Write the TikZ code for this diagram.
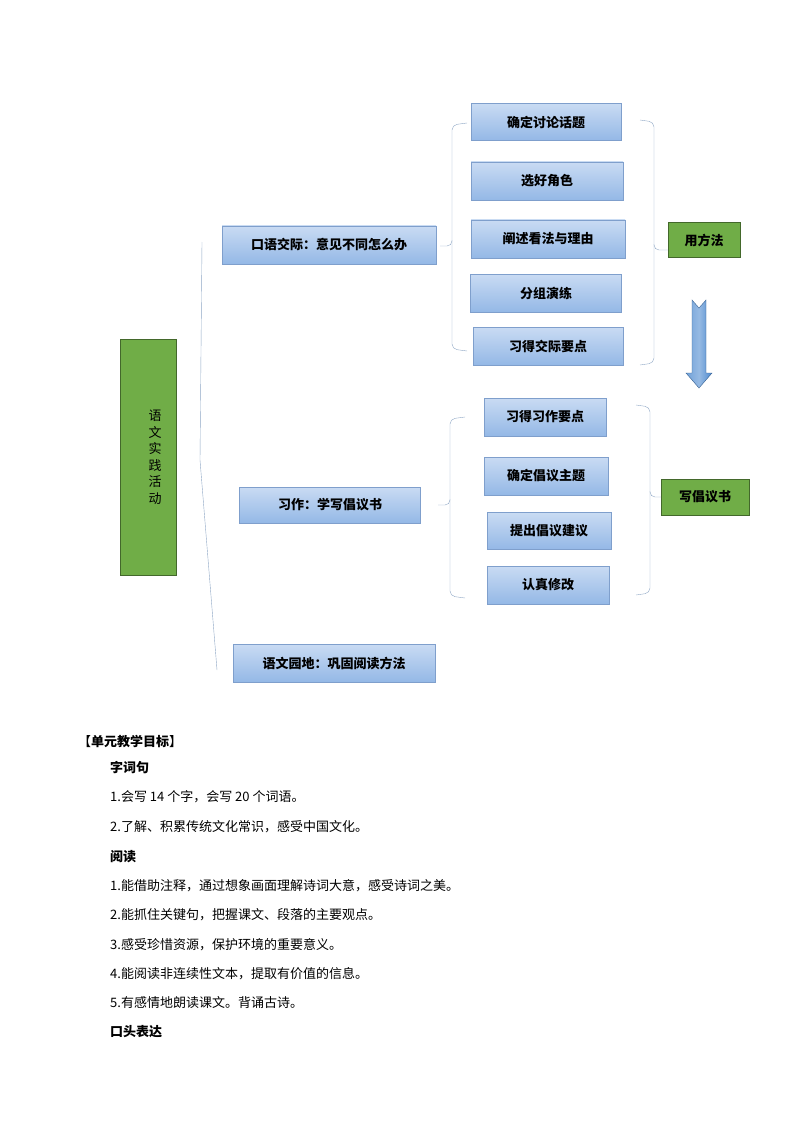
\documentclass[tikz,border=0pt]{standalone}
\usepackage{fontspec}
\setmainfont{Noto Sans CJK SC}
\usetikzlibrary{positioning, calc}
\definecolor{boxblue}{HTML}{94B8E6}
\definecolor{boxtop}{HTML}{C9DBF3}
\definecolor{boxline}{HTML}{7F9FCC}
\definecolor{leafgreen}{HTML}{70AD47}
\definecolor{bracegray}{HTML}{8EA6C4}
\definecolor{arrowblue}{HTML}{4F8BD0}

\begin{document}
\begin{tikzpicture}[x=1pt, y=-1pt, font=\fontsize{13}{15}\selectfont,
	bluebox/.style={draw=boxline, top color=boxtop, bottom color=boxblue, inner sep=0pt, font=\fontsize{13}{15}\selectfont\bfseries},
	greenbox/.style={draw=leafgreen!60!black, fill=leafgreen, inner sep=0pt, font=\fontsize{13}{15}\selectfont\bfseries},
	brace/.style={draw=bracegray, thin, rounded corners=5pt},
	goal/.style={anchor=west, inner sep=0pt, font=\fontsize{13}{15}\selectfont},
	goalhead/.style={goal, font=\fontsize{13}{15}\selectfont\bfseries}]
	\useasboundingbox (0,0) rectangle (794,1123);

	% root and first level
	\node[greenbox, minimum width=56, minimum height=236] (root) at (148,457) {};
	\node[font=\fontsize{13}{16.5}\selectfont, align=center] (rootText) at (155,457) {语\\文\\实\\践\\活\\动};
	\node[bluebox, minimum width=214, minimum height=38] (oral) at (329,245) {口语交际：意见不同怎么办};
	\node[bluebox, minimum width=181, minimum height=36] (write) at (330,505) {习作：学写倡议书};
	\node[bluebox, minimum width=202, minimum height=38] (garden) at (334,663) {语文园地：巩固阅读方法};
	\draw[bracegray, thin] (202,242) -- (200,460) -- (217,670);

	% oral steps
	\node[bluebox, minimum width=150, minimum height=37] (o1) at (546,122) {确定讨论话题};
	\node[bluebox, minimum width=152, minimum height=38] (o2) at (547,181) {选好角色};
	\node[bluebox, minimum width=154, minimum height=38] (o3) at (548,239) {阐述看法与理由};
	\node[bluebox, minimum width=151, minimum height=38] (o4) at (546,293) {分组演练};
	\node[bluebox, minimum width=150, minimum height=38] (o5) at (548,346) {习得交际要点};
	\node[greenbox, minimum width=72, minimum height=35] (useWay) at (704,240) {用方法};
	\draw[brace] (467,123) -- (452,125) -- (452,246) -- (440,246);
	\draw[brace] (452,240) -- (452,349) -- (467,351);
	\draw[brace] (640,120) -- (654,122) -- (654,250) -- (668,250);
	\draw[brace] (654,244) -- (654,363) -- (640,365);

	% writing steps
	\node[bluebox, minimum width=122, minimum height=38] (w1) at (545,417) {习得习作要点};
	\node[bluebox, minimum width=124, minimum height=38] (w2) at (546,476) {确定倡议主题};
	\node[bluebox, minimum width=124, minimum height=37] (w3) at (549,531) {提出倡议建议};
	\node[bluebox, minimum width=122, minimum height=38] (w4) at (548,585) {认真修改};
	\node[greenbox, minimum width=88, minimum height=36] (writeBook) at (705,497) {写倡议书};
	\draw[brace] (465,417) -- (450,419) -- (450,505) -- (438,505);
	\draw[brace] (450,499) -- (450,596) -- (465,598);
	\draw[brace] (636,405) -- (650,407) -- (650,497) -- (661,497);
	\draw[brace] (650,491) -- (650,593) -- (636,595);

	% arrow between methods
	\draw[draw=arrowblue!70!black, left color=arrowblue!80!white, right color=arrowblue, middle color=arrowblue!60!white]
		(692,300) -- (699,308) -- (706,300) -- (706,373) -- (712,373) -- (699,388) -- (686,373) -- (692,373) -- cycle;

	% unit goals
	\node[goal] (g0) at (78,742) {【\textbf{单元教学目标}】};
	\node[goalhead] (h1) at (110,768) {字词句};
	\node[goal] (g1) at (110,797) {1.会写 14 个字，会写 20 个词语。};
	\node[goal] (g2) at (110,827) {2.了解、积累传统文化常识，感受中国文化。};
	\node[goalhead] (h2) at (110,857) {阅读};
	\node[goal] (g3) at (110,886) {1.能借助注释，通过想象画面理解诗词大意，感受诗词之美。};
	\node[goal] (g4) at (110,915) {2.能抓住关键句，把握课文、段落的主要观点。};
	\node[goal] (g5) at (110,945) {3.感受珍惜资源，保护环境的重要意义。};
	\node[goal] (g6) at (110,974) {4.能阅读非连续性文本，提取有价值的信息。};
	\node[goal] (g7) at (110,1003) {5.有感情地朗读课文。背诵古诗。};
	\node[goalhead] (h3) at (110,1032) {口头表达};
\end{tikzpicture}
\end{document}
